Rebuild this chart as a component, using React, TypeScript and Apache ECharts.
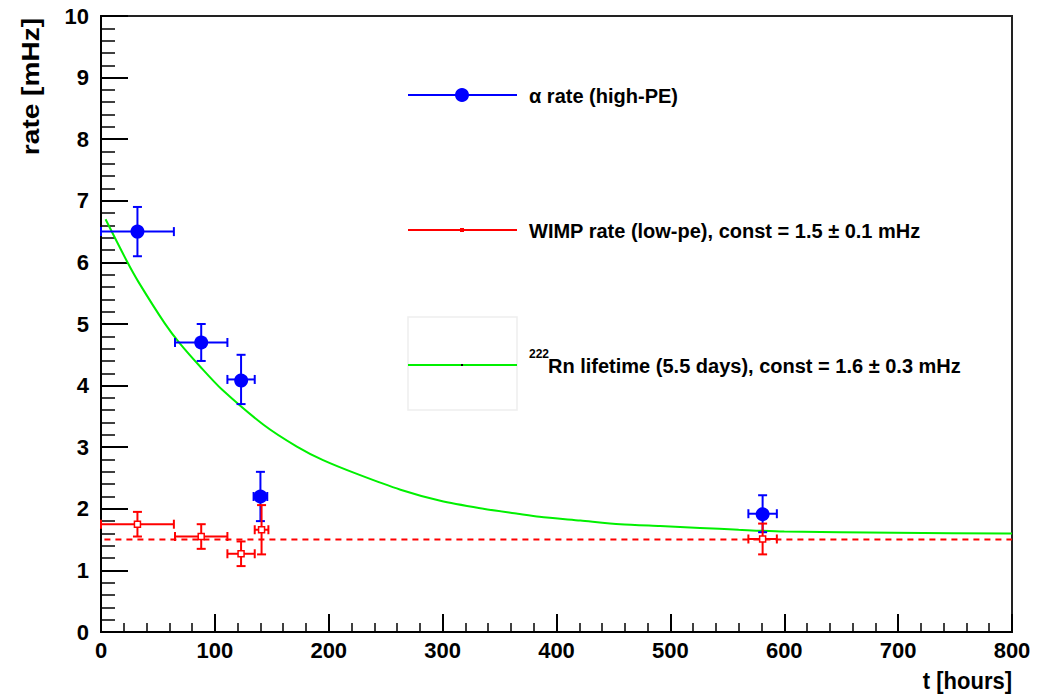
import React, { useEffect, useRef } from "react";
import * as echarts from "echarts";

// ---- data ----
const alphaT = [32, 88, 123, 140, 581];
const alphaTErr = [32, 23, 12, 6, 12.5];
const alphaRate = [6.5, 4.7, 4.1, 2.2, 1.92];
const alphaRateErr = [0.4, 0.3, 0.4, 0.4, 0.3];

const wimpT = [32, 88, 123, 141, 581];
const wimpTErr = [32, 23, 12, 6, 12.5];
const wimpRate = [1.75, 1.55, 1.27, 1.66, 1.51];
const wimpRateErr = [0.2, 0.2, 0.2, 0.4, 0.25];

const wimpConstT = [3, 800];
const wimpConstRate = [1.5, 1.5];

const rnT = [4, 23, 33, 56, 69, 88, 106, 143, 172, 195, 227, 263, 298, 333, 366, 385, 421, 456, 491, 526, 560, 600, 697, 797, 800];
const rnRate = [6.7, 6.01, 5.68, 5.01, 4.69, 4.29, 3.94, 3.36, 3.01, 2.79, 2.55, 2.31, 2.13, 2.01, 1.92, 1.87, 1.81, 1.75, 1.72, 1.69, 1.66, 1.63, 1.61, 1.6, 1.6];

const legendLabels = [
  "\u03b1 rate (high-PE)",
  "WIMP rate (low-pe), const = 1.5 \u00b1 0.1 mHz",
  "Rn lifetime (5.5 days), const = 1.6 \u00b1 0.3 mHz",
];
const rnSup = "222";
const xTitle = "t [hours]";
const yTitle = "rate [mHz]";

const FONT = "'Liberation Sans', Arial, Helvetica, sans-serif";
const BLUE = "#0000ff";
const RED = "#ff0000";
const GREEN = "#00f000";

function errorBars(color: string, marker: "circle" | "square") {
  return (params: any, api: any) => {
    const x = api.value(0);
    const y = api.value(1);
    const dx = api.value(2);
    const dy = api.value(3);
    const c = api.coord([x, y]);
    const l = api.coord([x - dx, y]);
    const r = api.coord([x + dx, y]);
    const t = api.coord([x, y + dy]);
    const b = api.coord([x, y - dy]);
    const cap = 4.5;
    const st = { stroke: color, lineWidth: 2 };
    const ln = (x1: number, y1: number, x2: number, y2: number) => ({
      type: "line",
      shape: { x1, y1, x2, y2 },
      style: st,
    });
    const children: any[] = [
      ln(l[0], c[1], r[0], c[1]),
      ln(c[0], t[1], c[0], b[1]),
      ln(l[0], c[1] - cap, l[0], c[1] + cap),
      ln(r[0], c[1] - cap, r[0], c[1] + cap),
      ln(c[0] - cap, t[1], c[0] + cap, t[1]),
      ln(c[0] - cap, b[1], c[0] + cap, b[1]),
    ];
    if (marker === "circle") {
      children.push({ type: "circle", shape: { cx: c[0], cy: c[1], r: 7 }, style: { fill: color } });
    } else {
      children.push({
        type: "rect",
        shape: { x: c[0] - 3, y: c[1] - 3, width: 6, height: 6 },
        style: { fill: "#fff", stroke: color, lineWidth: 1.5 },
      });
    }
    return { type: "group", children };
  };
}

export default function App() {
  const ref = useRef<HTMLDivElement>(null);
  useEffect(() => {
    if (!ref.current) return;
    const chart = echarts.init(ref.current, undefined, { renderer: "svg" });
    const labelStyle = { fontFamily: FONT, fontWeight: "bold" as const, fontSize: 22, color: "#000" };
    const textStyle = { fontFamily: FONT, fontWeight: "bold", fontSize: 20, fill: "#000" };
    chart.setOption({
      animation: false,
      backgroundColor: "#fff",
      grid: {
        left: 101,
        right: 26,
        top: 16,
        bottom: 63,
        show: true,
        borderColor: "#222",
        borderWidth: 2,
        containLabel: false,
      },
      xAxis: {
        type: "value",
        min: 0,
        max: 800,
        interval: 100,
        axisLine: { show: true, lineStyle: { color: "#000", width: 2 } },
        axisTick: { show: true, inside: true, length: 18, lineStyle: { color: "#000", width: 2 } },
        minorTick: { show: true, splitNumber: 5, length: 9, lineStyle: { color: "#000", width: 1.5 } },
        splitLine: { show: false },
        axisLabel: { ...labelStyle, margin: 7 },
      },
      yAxis: {
        type: "value",
        min: 0,
        max: 10,
        interval: 1,
        axisLine: { show: true, lineStyle: { color: "#000", width: 2 } },
        axisTick: { show: true, inside: true, length: 27, lineStyle: { color: "#000", width: 2 } },
        minorTick: { show: true, splitNumber: 5, length: 14, lineStyle: { color: "#000", width: 1.5 } },
        splitLine: { show: false },
        axisLabel: { ...labelStyle, margin: 12 },
      },
      series: [
        {
          type: "line",
          name: "rn",
          data: rnT.map((t, i) => [t, rnRate[i]]),
          smooth: 0.25,
          showSymbol: false,
          lineStyle: { color: GREEN, width: 2 },
          z: 2,
        },
        {
          type: "line",
          name: "wimpconst",
          data: wimpConstT.map((t, i) => [t, wimpConstRate[i]]),
          showSymbol: false,
          lineStyle: { color: RED, width: 2, type: [6, 5] },
          z: 2,
        },
        {
          type: "custom",
          name: "alpha",
          renderItem: errorBars(BLUE, "circle"),
          data: alphaT.map((t, i) => [t, alphaRate[i], alphaTErr[i], alphaRateErr[i]]),
          encode: { x: 0, y: 1 },
          z: 3,
        },
        {
          type: "custom",
          name: "wimp",
          renderItem: errorBars(RED, "square"),
          data: wimpT.map((t, i) => [t, wimpRate[i], wimpTErr[i], wimpRateErr[i]]),
          encode: { x: 0, y: 1 },
          z: 4,
        },
      ],
      graphic: [
        // legend entry 1
        { type: "line", shape: { x1: 408, y1: 95, x2: 517, y2: 95 }, style: { stroke: BLUE, lineWidth: 2 } },
        { type: "circle", shape: { cx: 462, cy: 95, r: 7 }, style: { fill: BLUE } },
        { type: "text", x: 529, y: 96, style: { ...textStyle, text: legendLabels[0], verticalAlign: "middle" } },
        // legend entry 2
        { type: "line", shape: { x1: 408, y1: 230, x2: 517, y2: 230 }, style: { stroke: RED, lineWidth: 2 } },
        { type: "rect", shape: { x: 460, y: 228, width: 4, height: 4 }, style: { fill: RED } },
        { type: "text", x: 529, y: 231, style: { ...textStyle, text: legendLabels[1], verticalAlign: "middle" } },
        // legend entry 3
        { type: "rect", shape: { x: 408, y: 317, width: 109, height: 93 }, style: { fill: "none", stroke: "#eeeeee", lineWidth: 1.5 } },
        { type: "line", shape: { x1: 408, y1: 365, x2: 517, y2: 365 }, style: { stroke: GREEN, lineWidth: 2 } },
        { type: "rect", shape: { x: 461, y: 364, width: 2, height: 2 }, style: { fill: "#000" } },
        { type: "text", x: 529, y: 354, style: { ...textStyle, fontSize: 12, text: rnSup, verticalAlign: "middle" } },
        { type: "text", x: 548, y: 366, style: { ...textStyle, text: legendLabels[2], verticalAlign: "middle" } },
        // axis titles
        {
          type: "text",
          x: 31,
          y: 18,
          rotation: Math.PI / 2,
          scaleX: 1.22,
          style: { ...textStyle, fontSize: 23, text: yTitle, align: "right", verticalAlign: "middle" },
        },
        {
          type: "text",
          x: 1012,
          y: 681,
          scaleY: 1.1,
          style: { ...textStyle, fontSize: 22, text: xTitle, align: "right", verticalAlign: "middle" },
        },
      ],
    });
    return () => chart.dispose();
  }, []);
  return (
    <div
      ref={ref}
      style={{ position: "fixed", left: 0, top: 0, width: 1038, height: 695, background: "#fff" }}
    />
  );
}
